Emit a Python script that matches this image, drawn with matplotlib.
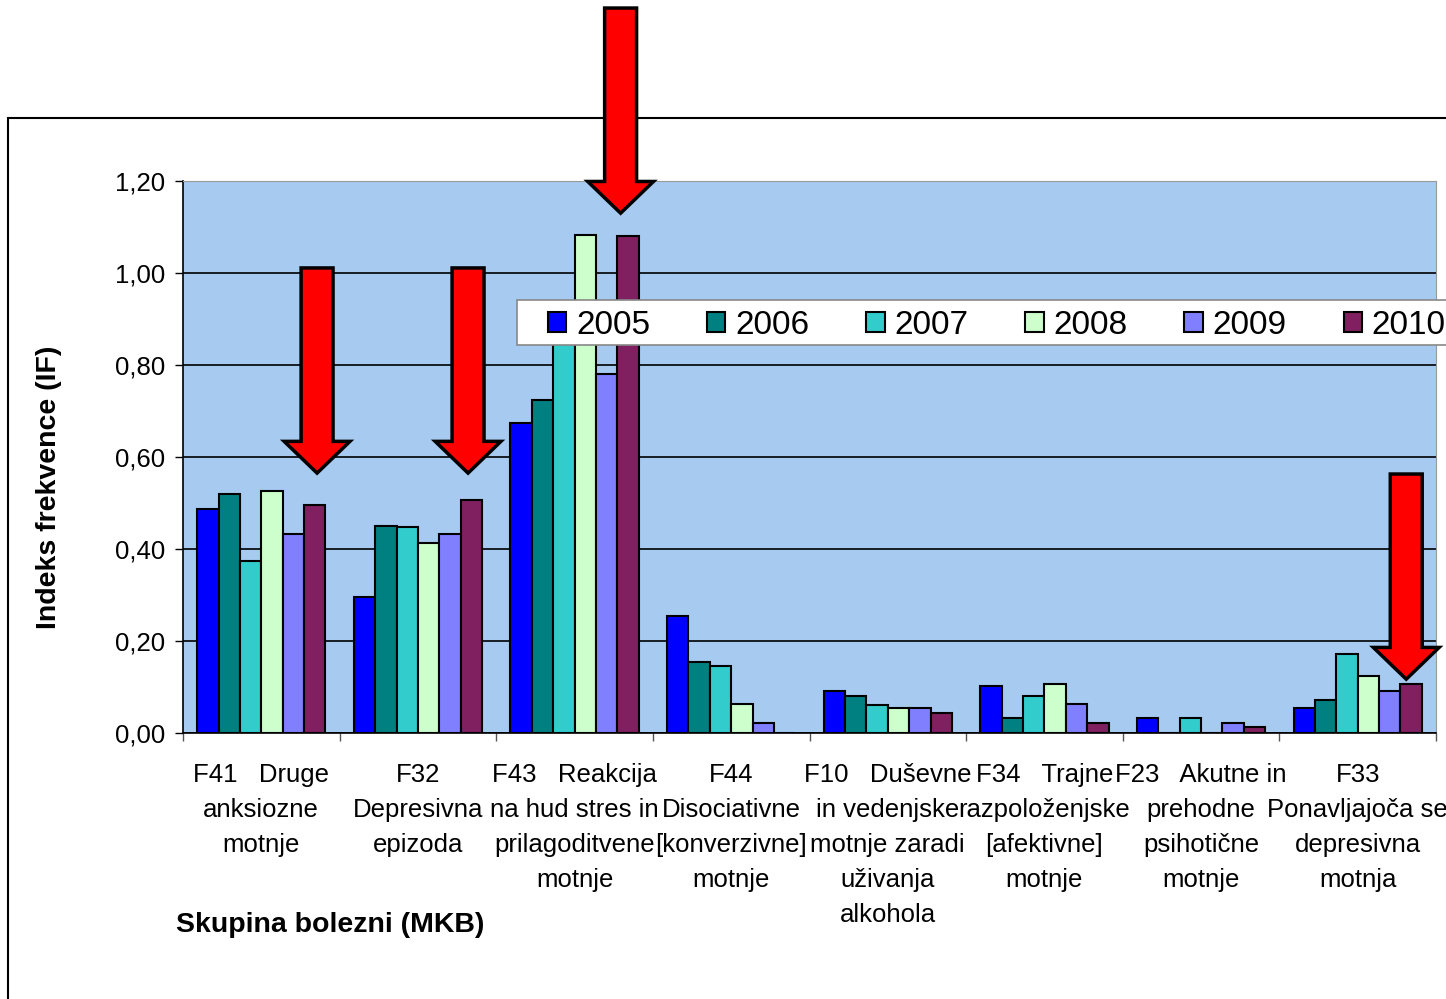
import numpy as np
import matplotlib
matplotlib.use('Agg')
import matplotlib.pyplot as plt
from matplotlib.patches import Rectangle, Polygon

plt.rcParams['font.family'] = ['Liberation Sans', 'DejaVu Sans']

# Skupine bolezni (MKB)
categories = [
    "F41   Druge\nanksiozne\nmotnje",
    "F32\nDepresivna\nepizoda",
    "F43   Reakcija\nna hud stres in\nprilagoditvene\nmotnje",
    "F44\nDisociativne\n[konverzivne]\nmotnje",
    "F10   Duševne\nin vedenjske\nmotnje zaradi\nuživanja\nalkohola",
    "F34   Trajne\nrazpoloženjske\n[afektivne]\nmotnje",
    "F23   Akutne in\nprehodne\npsihotične\nmotnje",
    "F33\nPonavljajoča se\ndepresivna\nmotnja",
]
years = ['2005', '2006', '2007', '2008', '2009', '2010']

# indeks frekvence po letih
if_2005 = [0.488, 0.296, 0.673, 0.255, 0.092, 0.102, 0.033, 0.054]
if_2006 = [0.520, 0.450, 0.725, 0.154, 0.081, 0.033, 0.000, 0.071]
if_2007 = [0.373, 0.447, 0.890, 0.145, 0.060, 0.081, 0.033, 0.172]
if_2008 = [0.527, 0.412, 1.083, 0.064, 0.054, 0.106, 0.000, 0.123]
if_2009 = [0.433, 0.433, 0.781, 0.022, 0.054, 0.064, 0.022, 0.092]
if_2010 = [0.495, 0.506, 1.080, 0.000, 0.043, 0.022, 0.012, 0.106]
series = [if_2005, if_2006, if_2007, if_2008, if_2009, if_2010]

colors = ['#0000FF', '#008080', '#33CCCC', '#CCFFCC', '#8080FF', '#802060']

# puscice (x v podatkih, konica v IF)
arrow_x = [0.356, 1.32, 2.294, 7.31]
arrow_tip = [0.565, 0.565, 1.130, 0.117]

W, H = 1446, 999
fig = plt.figure(figsize=(W / 100, H / 100), dpi=100)
fig.patch.set_facecolor('white')

# okvir grafikona
fig.patches.append(Rectangle((8 / W, -0.1), 1.2, 1 - 118 / H + 0.1, transform=fig.transFigure,
                             fill=False, edgecolor='black', linewidth=1.5, zorder=-1))

ax = fig.add_axes([183 / W, 1 - 733 / H, (1436 - 183) / W, (733 - 181) / H])
ax.set_facecolor('#A6CAF0')

x = np.arange(len(categories))
bw = 0.1366
for i, (vals, c, yr) in enumerate(zip(series, colors, years)):
    ax.bar(x + (i - 2.5) * bw, vals, bw, color=c, edgecolor='black', linewidth=1.5,
           label=yr, zorder=3)

ax.set_xlim(-0.5, len(categories) - 0.5)
ax.set_ylim(0, 1.2)
ax.set_yticks(np.arange(0, 1.21, 0.2))
ax.set_yticklabels([('%.2f' % v).replace('.', ',') for v in np.arange(0, 1.21, 0.2)], fontsize=18.5)
ax.grid(axis='y', color='black', linewidth=1.2, zorder=1)
ax.set_axisbelow(True)

ax.set_xticks(x)
ax.set_xticklabels(categories, fontsize=18.5, linespacing=1.58)
ax.set_xticks(np.arange(-0.5, len(categories)), minor=True)
ax.tick_params(axis='x', which='major', length=0, pad=21.5)
ax.tick_params(axis='x', which='minor', length=6, width=1, color='#555555')
ax.tick_params(axis='y', length=6, width=1, pad=7)

for s in ['top', 'right']:
    ax.spines[s].set_color('#999999')
for s in ['left', 'bottom']:
    ax.spines[s].set_color('black')
    ax.spines[s].set_linewidth(1.2)

ax.set_ylabel('Indeks frekvence (IF)', fontsize=20.5, fontweight='bold')
ax.yaxis.set_label_coords(-0.0965, 0.4457)
fig.text(176 / W, 1 - 925 / H, 'Skupina bolezni (MKB)', fontsize=20.5, fontweight='bold',
         ha='left', va='center')

# okvir legende (sega cez desni rob)
ax.add_patch(Rectangle((517 / W, 1 - 345 / H), 0.8, 45 / H, transform=fig.transFigure,
                       facecolor='white', edgecolor='#888888', linewidth=1.2,
                       clip_on=False, zorder=9))
leg = ax.legend(loc='center left', bbox_to_anchor=(548 / W, 1 - 325 / H),
                bbox_transform=fig.transFigure, ncol=6, fontsize=24, frameon=False,
                handlelength=0.55, handleheight=0.55, handletextpad=0.3,
                columnspacing=1.7, borderpad=0, borderaxespad=0)
leg.set_zorder(10)

# rdece puscice
shaft_w, head_w, head_len, length = 0.204, 0.42, 0.069, 0.446
for ax_x, tip in zip(arrow_x, arrow_tip):
    base = tip + head_len
    top = tip + length
    pts = [(ax_x - shaft_w / 2, top), (ax_x + shaft_w / 2, top), (ax_x + shaft_w / 2, base),
           (ax_x + head_w / 2, base), (ax_x, tip), (ax_x - head_w / 2, base),
           (ax_x - shaft_w / 2, base)]
    ax.add_patch(Polygon(pts, closed=True, facecolor='#FF0000', edgecolor='black',
                         linewidth=2.5, clip_on=False, zorder=20))

fig.savefig('out.png', dpi=100)
